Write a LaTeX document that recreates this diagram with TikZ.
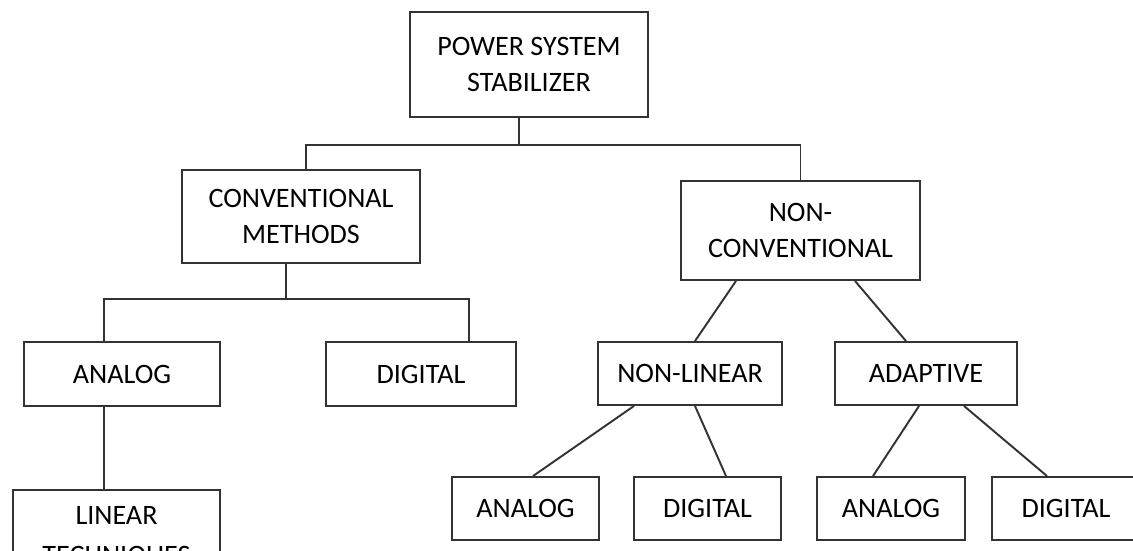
\documentclass[tikz,border=0pt]{standalone}
\usepackage{fontspec}
\setmainfont{Carlito}
\usepackage{tikz}
\usetikzlibrary{positioning,calc}

\begin{document}
\begin{tikzpicture}[x=0.02cm,y=-0.02cm,
    box/.style={draw=black!80,line width=1.1pt,rectangle,align=center,
      inner sep=0pt,font=\fontsize{16}{20}\selectfont,text=black},
    link/.style={draw=black!80,line width=1.1pt}]
    \useasboundingbox (0,0) rectangle (1133,551);

    % Root and first split
    \node[box,minimum width=4.76cm,minimum height=2.1cm] (pss) at (529,64.5) {POWER SYSTEM\\STABILIZER};
    \node[box,minimum width=4.76cm,minimum height=1.86cm] (conv) at (301,216.5) {CONVENTIONAL\\METHODS};
    \node[box,minimum width=4.78cm,minimum height=1.98cm] (nonconv) at (800.5,230.5) {NON-\\CONVENTIONAL};

    % Second row
    \node[box,minimum width=3.92cm,minimum height=1.28cm] (anA) at (122,374) {ANALOG};
    \node[box,minimum width=3.8cm,minimum height=1.28cm] (digA) at (421,374) {DIGITAL};
    \node[box,minimum width=3.68cm,minimum height=1.26cm] (nonlin) at (690,373.5) {NON-LINEAR};
    \node[box,minimum width=3.64cm,minimum height=1.26cm] (adapt) at (926,373.5) {ADAPTIVE};

    % Bottom row
    \node[box,minimum width=4.14cm,minimum height=1.9cm] (linear) at (116.5,537.5) {LINEAR\\[3pt]TECHNIQUES};
    \node[box,minimum width=2.94cm,minimum height=1.26cm] (anB) at (525.5,508.5) {ANALOG};
    \node[box,minimum width=2.94cm,minimum height=1.26cm] (digB) at (707.5,508.5) {DIGITAL};
    \node[box,minimum width=2.96cm,minimum height=1.26cm] (anC) at (891,508.5) {ANALOG};
    \node[box,minimum width=2.96cm,minimum height=1.26cm] (digC) at (1066,508.5) {DIGITAL};

    % Bus lines
    \coordinate (topbus) at (519,145);
    \coordinate (midbus) at (286,299);
    \draw[link] (pss.south -| topbus) -- (topbus);
    \draw[link] ([xshift=0.1cm]conv.north) |- (topbus) -| (nonconv.north);
    \draw[link] (conv.south -| midbus) -- (midbus);
    \draw[link] ([xshift=-0.36cm]anA.north) |- (midbus) -| ([xshift=0.96cm]digA.north);
    \draw[link] ([xshift=-0.36cm]anA.south) coordinate (a) -- (a |- linear.north);

    % Slanted branches
    \draw[link] ([xshift=-1.29cm]nonconv.south) -- ([xshift=0.1cm]nonlin.north);
    \draw[link] ([xshift=1.09cm]nonconv.south) -- ([xshift=-0.4cm]adapt.north);
    \draw[link] ([xshift=-1.12cm]nonlin.south) -- ([xshift=0.15cm]anB.north);
    \draw[link] ([xshift=0.1cm]nonlin.south) -- ([xshift=0.37cm]digB.north);
    \draw[link] ([xshift=-0.14cm]adapt.south) -- ([xshift=-0.36cm]anC.north);
    \draw[link] ([xshift=0.76cm]adapt.south) -- ([xshift=-0.38cm]digC.north);
\end{tikzpicture}
\end{document}
